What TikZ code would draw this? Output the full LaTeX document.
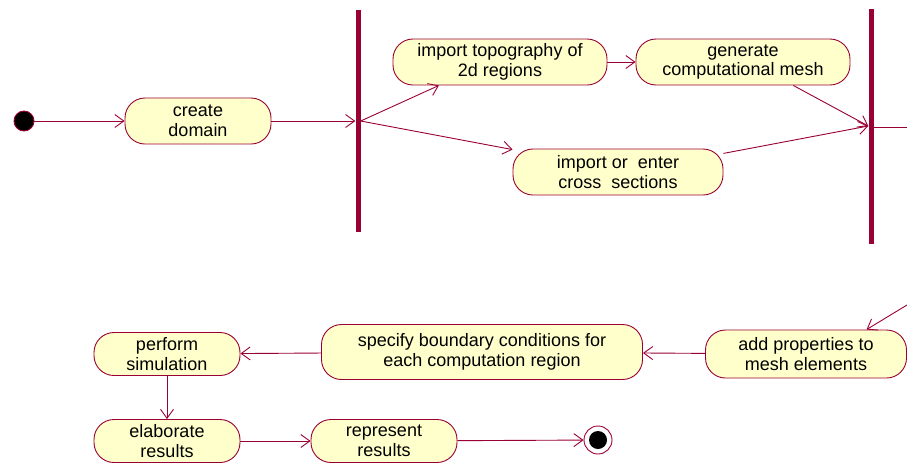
\documentclass[tikz,border=0pt]{standalone}
\usepackage{fontspec}
\setmainfont{Liberation Sans}
\usetikzlibrary{arrows.meta}
\definecolor{umlred}{RGB}{153,0,51}
\definecolor{umlfill}{RGB}{255,255,204}
\tikzset{
	action/.style={draw=umlred, fill=umlfill, line width=0.9pt, rounded corners=20pt, align=center,
		minimum height=46pt, inner sep=1pt, font=\fontsize{18}{19.5}\selectfont},
	syncbar/.style={fill=umlred, minimum width=5pt, inner sep=0pt},
	flow/.style={draw=umlred, line width=0.9pt, -{Straight Barb[length=9pt,width=13pt]}},
	plain/.style={draw=umlred, line width=0.9pt},
}
\begin{document}
\begin{tikzpicture}[x=1pt,y=-1pt]
		%\draw[help lines] (0,0) grid (907,464);
		\useasboundingbox (0,0) rectangle (907,464);
		% top row
		\node[circle, fill=black, draw=umlred, line width=0.9pt, minimum size=20pt, inner sep=0pt] (start) at (24,121) {};
		\node[action, minimum width=146pt] (create) at (198,121) {create\\domain};
		\node[syncbar, minimum height=222pt] (fork) at (358,121) {};
		\node[action, minimum width=214pt] (topo) at (500,62) {import topography of\\2d regions};
		\node[action, minimum width=214pt] (mesh) at (743,62) {generate\\computational mesh};
		\node[action, minimum width=210pt] (cross) at (618,172) {import or\ \ enter\\cross\ \ sections};
		\node[syncbar, minimum height=235pt] (join) at (871,126) {};
		\coordinate (outR) at (907,127);
		\coordinate (inR) at (907,305);
		% bottom rows
		\node[action, minimum width=201pt, minimum height=48pt] (props) at (806,354) {add properties to\\mesh elements};
		\node[action, minimum width=321pt, minimum height=55pt] (bound) at (482,352) {specify boundary conditions for\\each computation region};
		\node[action, minimum width=146pt, minimum height=43pt] (sim) at (167,354) {perform\\simulation};
		\node[action, minimum width=146pt, minimum height=43pt] (elab) at (167,441) {elaborate\\results};
		\node[action, minimum width=146pt, minimum height=43pt] (repr) at (384,441) {represent\\results};
		\node[circle, draw=umlred, fill=white, line width=0.9pt, minimum size=28pt, inner sep=0pt] (stop) at (598,440) {};
		\node[circle, fill=black, minimum size=18pt, inner sep=0pt] (stopdot) at (stop) {};
		% flows
		\draw[flow] (start) -- (create);
		\draw[flow] (create) -- (fork);
		\draw[flow] (fork.east) -- (topo.201);
		\draw[flow] (fork.east) -- (cross.168);
		\draw[flow] (topo) -- (mesh);
		\draw[flow] (mesh.-25) -- (join.west);
		\draw[flow] (cross.10) -- (join.west);
		\draw[plain] (join.east |- outR) -- (outR);
		\draw[flow] (inR) -- (props.22);
		\draw[flow] (props) -- (bound);
		\draw[flow] (bound) -- (sim);
		\draw[flow] (sim) -- (elab);
		\draw[flow] (elab) -- (repr);
		\draw[flow] (repr) -- (stop);
\end{tikzpicture}
\end{document}
